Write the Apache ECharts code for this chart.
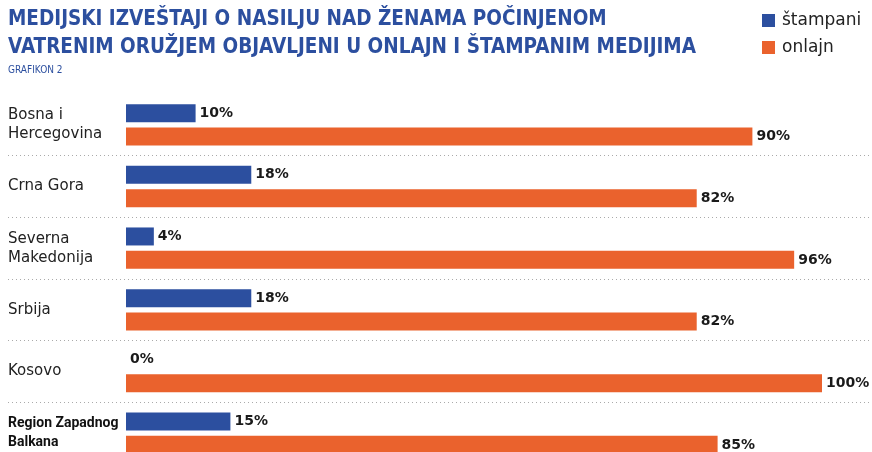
<!DOCTYPE html>
<html>
<head>
<meta charset="utf-8">
<script src="https://cdn.jsdelivr.net/npm/echarts@6/dist/echarts.min.js"></script>
<style>html,body{margin:0;padding:0;background:#fff}#c{width:872px;height:452px}</style>
</head>
<body>
<div id="c"></div>
<script>
const categories = ["Bosna i\nHercegovina", "Crna Gora", "Severna\nMakedonija", "Srbija", "Kosovo", "Region Zapadnog\nBalkana"];
const stampani = [10, 18, 4, 18, 0, 15];
const onlajn = [90, 82, 96, 82, 100, 85];
const seriesNames = ["štampani", "onlajn"];
const titleText = "MEDIJSKI IZVEŠTAJI O NASILJU NAD ŽENAMA POČINJENOM\nVATRENIM ORUŽJEM OBJAVLJENI U ONLAJN I ŠTAMPANIM MEDIJIMA";
const subText = "GRAFIKON 2";

const BLUE = "#2c4f9f", ORANGE = "#ea622d";
const chart = echarts.init(document.getElementById("c"));
const valLabel = {
  show: true, position: "right", distance: 4,
  formatter: p => p.value + "%",
  fontFamily: "DejaVu Sans", fontWeight: "bold", fontSize: 14, color: "#1a1a1a"
};
chart.setOption({
  animation: false,
  title: {
    text: titleText, subtext: subText, left: 3, top: 1, itemGap: 3,
    textStyle: { fontFamily: "DejaVu Sans Condensed", fontWeight: "bold", fontSize: 20.5, lineHeight: 28, color: BLUE },
    subtextStyle: { fontFamily: "DejaVu Sans Condensed", fontSize: 10, color: BLUE }
  },
  legend: {
    orient: "vertical", left: 757, top: 7, itemWidth: 13, itemHeight: 13, itemGap: 10,
    icon: "rect", data: seriesNames,
    textStyle: { fontFamily: "DejaVu Sans", fontSize: 17, color: "#222", padding: [0, 0, 0, 2] }
  },
  grid: [
    { left: 126, width: 696, top: 94, height: 370, outerBoundsMode: "none", containLabel: false },
    { left: 8, right: 2, top: 94, height: 370, outerBoundsMode: "none", containLabel: false }
  ],
  xAxis: [
    { gridIndex: 0, type: "value", min: 0, max: 100, show: false },
    { gridIndex: 1, type: "value", min: 0, max: 1, show: false }
  ],
  yAxis: [
    {
      gridIndex: 0, type: "category", data: categories, inverse: true,
      axisLine: { show: false }, axisTick: { show: false }, splitLine: { show: false },
      axisLabel: {
        align: "left", margin: 118, fontFamily: "DejaVu Sans", fontSize: 15, lineHeight: 19, color: "#222",
        formatter: (v, i) => i === categories.length - 1 ? "{b|" + v + "}" : v,
        rich: { b: { fontFamily: "Roboto", fontWeight: "bold", fontSize: 14, lineHeight: 19, color: "#111" } }
      }
    },
    {
      gridIndex: 1, type: "category", data: categories, inverse: true,
      axisLine: { show: false }, axisTick: { show: false }, axisLabel: { show: false },
      splitLine: { show: true, interval: (i) => i > 0, lineStyle: { color: "#aaa", width: 1, type: [1, 3] } }
    }
  ],
  series: [
    { name: seriesNames[0], type: "bar", data: stampani, xAxisIndex: 0, yAxisIndex: 0, barWidth: 18, barGap: "30%", itemStyle: { color: BLUE }, label: valLabel },
    { name: seriesNames[1], type: "bar", data: onlajn, xAxisIndex: 0, yAxisIndex: 0, barWidth: 18, barGap: "30%", itemStyle: { color: ORANGE }, label: valLabel }
  ]
});
</script>
</body>
</html>
